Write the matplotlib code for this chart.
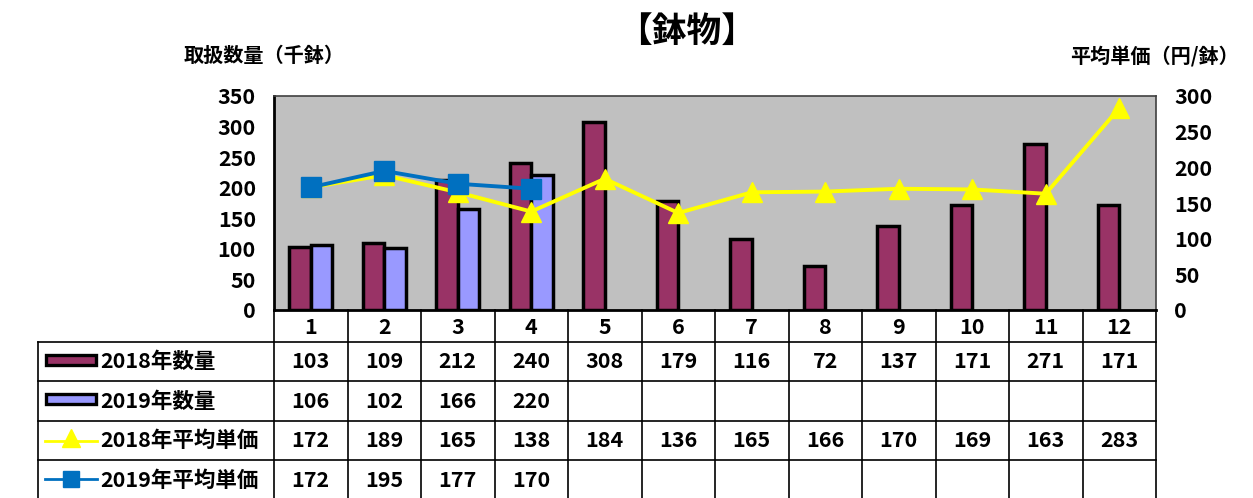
import matplotlib
matplotlib.use("Agg")
import matplotlib.pyplot as plt
from matplotlib.lines import Line2D
from matplotlib.patches import Rectangle
import numpy as np

plt.rcParams['font.family'] = ['Noto Sans CJK JP', 'DejaVu Sans']
plt.rcParams['font.weight'] = 'bold'

months = ['1', '2', '3', '4', '5', '6', '7', '8', '9', '10', '11', '12']
qty_2018 = [103, 109, 212, 240, 308, 179, 116, 72, 137, 171, 271, 171]
qty_2019 = [106, 102, 166, 220]
price_2018 = [172, 189, 165, 138, 184, 136, 165, 166, 170, 169, 163, 283]
price_2019 = [172, 195, 177, 170]
series_names = ['2018年数量', '2019年数量', '2018年平均単価', '2019年平均単価']
title = '【鉢物】'
left_label = '取扱数量（千鉢）'
right_label = '平均単価（円/鉢）'

W, H = 1253, 498
fig = plt.figure(figsize=(W / 100, H / 100), dpi=100)
fig.patch.set_facecolor('white')

def fx(px):
    return px / W

def fy(py):
    return 1 - py / H

L, R, T, B = 274, 1156, 96, 310
ax = fig.add_axes([fx(L), fy(B), fx(R) - fx(L), fy(T) - fy(B)])
ax.set_facecolor('#C0C0C0')

FS = 15.5

c_2018 = '#993366'
c_2019 = '#9999FF'
x = np.arange(len(months))
bw = 0.29
ax.bar(x[:len(qty_2018)] - 0.145, qty_2018, bw, color=c_2018, edgecolor='black', linewidth=2.5, zorder=2)
ax.bar(x[:len(qty_2019)] + 0.145, qty_2019, bw, color=c_2019, edgecolor='black', linewidth=2.5, zorder=2)
ax.set_xlim(-0.5, 11.5)
ax.set_ylim(0, 350)
ax.set_yticks(range(0, 351, 50))
ax.set_xticks([])
ax.tick_params(axis='y', length=0, labelsize=FS, pad=13)
for lab in ax.get_yticklabels():
    lab.set_fontweight('bold')
for s in ax.spines.values():
    s.set_color('#404040')
    s.set_linewidth(1.2)
ax.spines['left'].set_color('black')
ax.spines['left'].set_linewidth(2)
ax.spines['bottom'].set_color('black')
ax.spines['bottom'].set_linewidth(2)

ax2 = ax.twinx()
ax2.set_ylim(0, 300)
ax2.set_yticks(range(0, 301, 50))
ax2.tick_params(axis='y', length=0, labelsize=FS, pad=13)
for lab in ax2.get_yticklabels():
    lab.set_fontweight('bold')
ax2.plot(x[:len(price_2018)], price_2018, color='#FFFF00', lw=2.8, marker='^', markersize=15, zorder=3)
ax2.plot(x[:len(price_2019)], price_2019, color='#0070C0', lw=2.8, marker='s', markersize=15, zorder=4)
for s in ax2.spines.values():
    s.set_visible(False)

# Title and axis labels
fig.text(fx(687), fy(31), title, ha='center', va='center', fontsize=25, fontweight='bold')
fig.text(fx(264), fy(55), left_label, ha='center', va='center', fontsize=14.5, fontweight='bold')
fig.text(fx(1154), fy(57), right_label, ha='center', va='center', fontsize=14.5, fontweight='bold')

# Data table
col_w = (R - L) / 12
rows_y = [310, 342, 381, 421, 460, 500]
tbl_left = 38
lk = dict(color='black', lw=1.2, transform=fig.transFigure, clip_on=False)
for i in range(13):
    xx = L + i * col_w
    fig.add_artist(Line2D([fx(xx), fx(xx)], [fy(310), fy(500)], **lk))
fig.add_artist(Line2D([fx(tbl_left), fx(tbl_left)], [fy(342), fy(500)], **lk))
for yy in rows_y[1:5]:
    fig.add_artist(Line2D([fx(tbl_left), fx(R)], [fy(yy), fy(yy)], **lk))

for i, m in enumerate(months):
    cx = L + (i + 0.5) * col_w
    fig.text(fx(cx), fy(327), m, ha='center', va='center', fontsize=FS, fontweight='bold')

row_values = [qty_2018, qty_2019, price_2018, price_2019]
for r, vals in enumerate(row_values):
    cy = (rows_y[r + 1] + rows_y[r + 2]) / 2
    for i, v in enumerate(vals):
        cx = L + (i + 0.5) * col_w
        fig.text(fx(cx), fy(cy), str(v), ha='center', va='center', fontsize=FS, fontweight='bold')
    fig.text(fx(100), fy(cy), series_names[r], ha='left', va='center', fontsize=FS, fontweight='bold')

# legend keys
for r, col in enumerate([c_2018, c_2019]):
    cy = (rows_y[r + 1] + rows_y[r + 2]) / 2 - 2
    fig.add_artist(Rectangle((fx(46), fy(cy + 5)), fx(96) - fx(46), fy(cy - 5) - fy(cy + 5),
                             facecolor=col, edgecolor='black', lw=2.4, transform=fig.transFigure))
cy = (rows_y[3] + rows_y[4]) / 2
fig.add_artist(Line2D([fx(45), fx(97)], [fy(cy), fy(cy)], color='#FFFF00', lw=2, transform=fig.transFigure))
fig.add_artist(Line2D([fx(71)], [fy(cy - 3)], color='#FFFF00', marker='^', markersize=13, transform=fig.transFigure))
cy = (rows_y[4] + rows_y[5]) / 2
fig.add_artist(Line2D([fx(45), fx(97)], [fy(cy - 1), fy(cy - 1)], color='#0070C0', lw=2, transform=fig.transFigure))
fig.add_artist(Line2D([fx(71)], [fy(cy - 1)], color='#0070C0', marker='s', markersize=11, transform=fig.transFigure))

fig.savefig('out.png', dpi=100, facecolor='white')
